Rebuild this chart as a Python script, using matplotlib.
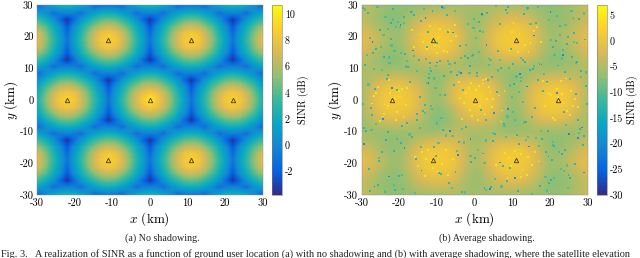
import numpy as np
import matplotlib
matplotlib.use('Agg')
import matplotlib.pyplot as plt
from matplotlib.colors import LinearSegmentedColormap

# parula-like colours, as matlab draws them
parula = LinearSegmentedColormap.from_list('parula', ['#352a87', '#0363e1', '#1485d4', '#06a7c6', '#38b99e',
                                                      '#92bf73', '#d9ba56', '#fcce2e', '#f9fb0e'])

# satellite beam centres (km)
beam_x = [0, -22, 22, -11, 11, -11, 11]
beam_y = [0, 0, 0, 19, 19, -19, -19]

# no shadowing: SINR (dB) read on a grid that goes through beam centres and cell corners,
# x = 0..31.2 in steps of 11/6 km, y = 0..31.7 in steps of 19/9 km (the picture is mirror symmetric)
sinr_rows = [
    [10.4, 8.6, 7.0, 5.2, 3.2, 1.3, -1.0, 1.3, 3.2, 5.2, 7.0, 8.4, 9.0, 8.4, 7.0, 5.2, 3.2, 1.3],
    [8.6, 7.9, 6.7, 4.8, 2.8, 1.0, -1.5, 1.0, 2.8, 4.8, 6.7, 7.9, 8.4, 7.9, 6.7, 4.8, 2.8, 1.0],
    [6.7, 6.3, 5.1, 3.8, 2.1, 0.4, -2.3, 0.4, 2.1, 3.8, 5.1, 6.3, 6.7, 6.3, 5.1, 3.8, 2.1, 0.4],
    [4.5, 4.2, 3.3, 2.2, 0.8, -1.5, -3.6, -1.5, 0.8, 2.2, 3.3, 4.2, 4.5, 4.2, 3.3, 2.2, 0.8, -1.5],
    [2.2, 2.0, 1.3, 0.4, -1.2, -0.5, -0.3, -0.5, -1.2, 0.4, 1.3, 2.0, 2.2, 2.0, 1.3, 0.4, -1.2, -0.5],
    [-0.3, -0.5, -1.2, 0.4, 1.3, 2.0, 2.2, 2.0, 1.3, 0.4, -1.2, -0.5, -0.3, -0.5, -1.2, 0.4, 1.3, 2.0],
    [-3.6, -1.5, 0.8, 2.2, 3.3, 4.2, 4.5, 4.2, 3.3, 2.2, 0.8, -1.5, -3.6, -1.5, 0.8, 2.2, 3.3, 4.2],
    [-2.3, 0.4, 2.1, 3.8, 5.1, 6.3, 6.7, 6.3, 5.1, 3.8, 2.1, 0.4, -2.3, 0.4, 2.1, 3.8, 5.1, 6.3],
    [-1.5, 1.0, 2.8, 4.8, 6.7, 7.9, 8.4, 7.9, 6.7, 4.8, 2.8, 1.0, -1.5, 1.0, 2.8, 4.8, 6.7, 7.9],
    [-1.0, 1.3, 3.2, 5.2, 7.0, 8.4, 9.0, 8.4, 7.0, 5.2, 3.2, 1.3, -1.0, 1.3, 3.2, 5.2, 7.0, 8.4],
    [-1.5, 1.0, 2.8, 4.8, 6.7, 7.9, 8.4, 7.9, 6.7, 4.8, 2.8, 1.0, -1.5, 1.0, 2.8, 4.8, 6.7, 7.9],
    [-2.3, 0.4, 2.1, 3.8, 5.1, 6.3, 6.7, 6.3, 5.1, 3.8, 2.1, 0.4, -2.3, 0.4, 2.1, 3.8, 5.1, 6.3],
    [-3.6, -1.5, 0.8, 2.2, 3.3, 4.2, 4.5, 4.2, 3.3, 2.2, 0.8, -1.5, -3.6, -1.5, 0.8, 2.2, 3.3, 4.2],
    [-0.3, -0.5, -1.2, 0.4, 1.3, 2.0, 2.2, 2.0, 1.3, 0.4, -1.2, -0.5, -0.3, -0.5, -1.2, 0.4, 1.3, 2.0],
    [2.2, 2.0, 1.3, 0.4, -1.2, -0.5, -0.3, -0.5, -1.2, 0.4, 1.3, 2.0, 2.2, 2.0, 1.3, 0.4, -1.2, -0.5],
    [4.5, 4.2, 3.3, 2.2, 0.8, -1.5, -3.6, -1.5, 0.8, 2.2, 3.3, 4.2, 4.5, 4.2, 3.3, 2.2, 0.8, -1.5],
]

# average shadowing: general level (dB) every 5 km, y = 30 down to -30, x = -30..30
shadow_rows = [
    [-3, -6, -7, -7.5, -7, -6, -5, -5.5, -6, -7, -7.5, -6, -3],
    [-4, -7.5, -8.5, -2, 0, -2.5, -8.5, -3, 0, -2, -8, -6.5, -3],
    [0, -3, -7.5, 1, 2.5, 1, -7.5, 1, 2.5, 1, -7, -3, 0],
    [-2, -6.5, -8.5, 0, 1.5, -1, -8.5, -1, 1.5, 0, -8.5, -6.5, -2],
    [-4.5, -7.5, -7, -7.5, -6, -7, -7, -7, -7, -8, -7, -7, -4.5],
    [-6.5, -0.5, 1, -2, -9.5, 0, 1.5, -0.5, -9.5, -2, 1, 0.5, -5.5],
    [-6, 1.5, 2.5, -0.5, -8.5, 1, 2.5, 1, -8.5, -0.5, 2.5, 1.5, -6],
    [-6.5, -0.5, 1, -2, -10, -6, 1, -0.5, -10, -2, 1, -0.5, -6.5],
    [-6.5, -7.5, -7, -7.5, -7.5, -3.5, -7, -7, -7.5, -7, -7, -7.5, -5.5],
    [-2, -5.5, -8.5, 0, 1.5, 0, -7.5, 0, 1.5, 0, -8.5, -5.5, -2],
    [0.5, -3, -7.5, 1, 2.5, 1, -7.5, 1, 2.5, 1, -7.5, -3, 0.5],
    [-3, -7.5, -8.5, -2, 0, -2, -8.5, -3, 0, -2, -8.5, -7.5, -3],
    [-3, -6, -7, -6.5, -6, -5.5, -5.5, -5.5, -6.5, -6.5, -7, -5.5, -3],
]

# single deep fades and bright spots picked out of panel (b)
teal_x = [-28.3, -25.1, -21.7, -18.4, -14.2, -11.6, -7.3, -3.8, 1.4, 4.7, 8.2, 12.9, 16.3, 20.8, 24.1, 27.6,
          -29.1, -26.4, -22.3, -17.1, -13.8, -9.2, -5.6, -1.3, 2.9, 6.1, 10.4, 14.7, 18.2, 22.6, 25.9, 29.2,
          -27.2, -23.6, -19.3, -15.7, -12.1, -8.4, -4.1, 0.6, 3.8, 7.7, 11.3, 15.1, 19.4, 23.7, 26.8, 28.7,
          -28.8, -24.7, -20.2, -16.6, -10.7, -6.9, -2.2, 2.1, 5.4, 9.3, 13.6, 17.4, 21.1, 24.9, 27.3, -26.1,
          -22.9, -18.8, -14.9, -11.2, -7.8, -3.1, 1.7, 6.6, 10.1, 14.2, 18.9, 22.2, 26.3, 29.5, -29.6, -25.4,
          -21.2, -17.7, -13.3, -9.9, -5.1, -0.4, 3.2, 7.1, 11.8, 16.7, 20.3, 24.4, 28.1, -27.8, -23.1, -19.9,
          -15.2, -12.7, -8.9, -4.6, 0.2, 4.3, 8.8, 12.4, 15.9, 19.8, 23.3, 27.1, -28.1, -24.2, -20.7, -16.2,
          -10.3, -6.3, -1.8, 2.6, 5.9, 9.7, 13.1, 17.8, 21.6, 25.3, 28.9, -26.9, -22.1, -18.1, -14.5, -9.4,
          -5.3, -0.9, 3.5, 7.4, 11.6, 15.5, 19.1, 23.9, 26.6, 29.8, -29.4, -25.7, -21.4, -16.9, -12.4, -8.1,
          -3.4, 1.1, 4.9, 8.5, 13.4, 17.2, 20.6, 24.7, 27.9, -27.5, -23.4, -19.6, -15.4, -11.9, -7.1, -2.7]
teal_y = [27.4, 22.1, 28.8, 14.6, 24.9, 9.3, 26.7, 17.2, 21.8, 7.4, 28.3, 12.6, 24.2, 16.8, 8.7, 25.6,
          11.2, 3.6, 19.4, 5.8, -3.4, 12.2, 4.7, 10.8, -6.2, 15.4, 5.1, 9.6, 2.7, 23.3, 13.7, 19.1,
          -4.8, -12.6, -8.3, -18.7, 6.9, -9.4, -13.2, 8.4, 13.1, -7.6, -11.1, -5.3, -9.8, -3.7, 1.8, -14.2,
          -9.7, -16.3, -24.1, -11.7, -14.8, -26.3, -8.6, -16.9, -10.7, -21.4, -6.8, -27.2, -14.6, -23.8, -6.3, 16.2,
          7.8, 26.1, 12.7, 28.1, 1.6, 3.2, -3.1, 23.9, 11.4, 29.2, -16.4, 10.9, 21.2, 4.4, 29.1, -19.2,
          -28.4, 10.4, -1.7, 18.1, -22.8, 14.3, 27.6, 10.1, -13.9, 6.2, -25.3, 17.7, 9.1, -28.6, -10.1, 22.9,
          -6.4, 16.7, -23.4, 7.9, -18.3, -27.4, 29.3, 7.1, -2.4, -26.1, -17.2, 11.9, -21.7, 13.6, 3.1, 26.9,
          -17.6, 8.8, 13.4, -27.9, 2.4, 16.1, 27.2, -12.3, 18.6, -24.7, -11.4, 14.9, 24.4, -7.2, 0.8, -23.2,
          11.7, -19.6, 6.4, -20.8, -28.7, 9.7, 5.6, -15.7, -20.3, -1.2, -8.9, -26.7, -16.1, 27.9, 21.6, 7.6,
          -29.2, 24.6, -12.9, -25.7, 12.1, 11.3, -18.9, 19.8, -9.2, -2.6, 6.7, -13.6, -4.4, 11.6, 21.4, 13.8]
blue_x = [-27.1, -19.7, -12.3, -5.8, 1.9, 8.9, 15.8, 23.4, 28.4, -24.4, -16.4, -8.7, -1.1, 5.2, 12.1, 19.6,
          26.2, -29.3, -21.9, -14.1, -6.6, 3.1, 10.7, 17.7, 25.1, -26.6, -18.6, -10.1, -3.6, 6.7, 14.4, 21.9,
          29.1, -22.7, -13.1, -4.4, 4.1, 13.8, 20.1, 27.4]
blue_y = [18.4, 23.6, 5.3, 21.3, 27.1, -2.8, 20.4, 14.2, -8.7, -6.1, 15.6, 29.4, -12.4, -4.2, 8.1, -17.8,
          25.7, -13.9, 3.9, -22.3, -9.9, 17.3, -24.6, 11.2, -10.8, -27.3, -15.1, 11.8, 8.6, -19.7, -14.7, 2.1,
          -22.9, -24.2, 25.8, -17.4, -28.1, 4.3, 27.8, -12.1]
green_x = [-28.6, -24.9, -22.8, -21.3, -20.4, -23.7, -22.1, -20.9, -24.2, -21.8, -19.6, -23.1, -0.8, 1.2, -2.3, 0.4,
           2.1, -1.7, -0.2, 1.9, -2.8, 0.9, -1.1, 2.6, 21.2, 23.4, 20.3, 22.7, 24.1, 19.8, 21.9, 23.2,
           20.7, 22.4, 24.6, 21.1, -12.6, -10.4, -9.3, -11.7, -13.1, -8.8, -10.9, -12.2, -9.9, -11.3, 9.4, 11.7,
           12.8, 10.2, 8.7, 13.2, 11.1, 9.9, 12.3, 10.7, -26.8, -18.2, -15.4, -6.7, -4.2, 3.7, 6.2, 15.7,
           18.4, 26.9, -27.4, -17.3, -14.6, -7.6, -3.3, 4.8, 7.9, 14.1, 17.6, 27.7, -29.2, -25.8, -16.7, -13.4,
           -8.3, -5.2, 5.6, 8.6, 13.9, 16.8, 25.7, 29.1, -23.9, -19.1, -15.9, -6.1, -2.6, 2.9, 7.1, 15.2,
           19.3, 24.8, -28.2, -20.6, -12.9, -4.8, 3.1, 12.2, 20.9, 28.3, -26.1, -17.9, -9.6, -1.4, 6.8, 16.2,
           24.3, 29.6, -22.6, -14.3, -7.2, 0.6, 8.3, 17.1, 25.2, -29.7, -24.6, -16.1, -5.9, 4.2, 13.6, 22.8,
           -27.9, -18.8, -11.8, -3.7, 5.3, 14.8, 23.6, 27.2, -25.3, -19.4, -10.2, -0.3, 9.2, 18.8, 26.4, -21.5]
green_y = [14.1, 16.7, 13.4, 15.6, 24.6, 26.3, 17.2, 23.1, 20.4, 25.4, 14.8, 22.3, 13.8, 15.1, 17.4, 19.7,
           21.6, 23.9, 25.7, 26.8, -13.4, -15.8, -17.6, -19.9, 14.2, 15.7, 18.9, 20.6, 23.7, 25.2, 26.6, 13.1,
           -14.3, -16.4, -20.7, -24.6, 5.4, 3.8, 1.6, -1.9, -4.2, -5.6, 6.8, 8.1, -7.4, -2.8, 4.6, 2.4,
           -0.7, -3.9, -5.2, -7.1, 7.4, 0.9, 6.1, -6.4, 9.8, 10.6, 9.1, 11.4, 8.9, 11.1, 9.3, 10.8,
           8.2, 11.7, -9.4, -10.9, -8.8, -11.2, -9.1, -10.3, -8.3, -11.6, -9.9, -10.4, 28.6, 29.4, 27.9, 28.7,
           29.1, 28.2, 29.6, 27.6, 28.9, 29.3, 28.1, 27.3, -28.9, -28.1, -29.4, -27.8, -29.2, -28.4, -27.3, -29.7,
           -28.6, -27.9, 4.9, -12.3, 12.9, -16.2, -12.8, 13.3, -13.2, 7.2, -7.7, 12.4, -13.7, 8.4, 12.7, -12.1,
           -7.9, 8.7, 11.6, -14.9, 12.2, 7.7, -11.8, -14.4, 6.6, -1.3, 9.4, 13.9, -11.3, 12.6, -12.7, -21.8,
           19.7, 24.3, 10.2, 13.2, -24.9, 24.1, -22.4, 18.1, -18.4, -23.6, 10.7, 22.7, 10.1, -24.2, 18.3, -26.9]
gold_x = [-26.7, -23.3, -19.2, -14.4, -12.6, -9.1, -6.2, -2.4, 1.3, 3.9, 7.2, 9.8, 13.3, 16.6, 20.4, 23.8,
          -24.1, -21.1, -17.3, -13.7, -8.2, -4.9, 0.3, 2.7, 6.4, 11.9, 14.8, 18.7, 21.8, 25.6, -25.6, -20.6,
          -15.8, -11.1, -7.6, -2.9, 1.8, 4.6, 8.1, 12.7, 17.1, 22.4, 24.6, -22.4, -18.3, -12.9, -9.7, -4.2,
          -0.7, 3.3, 9.1, 10.6, 15.3, 19.3, 23.1, 26.7, -23.8, -20.1, -10.6, -6.8, -1.6, 2.3, 5.7, 11.2,
          -27.3, -22.8, -18.9, -15.1, -13.2, -11.8, -9.4, -7.1, -5.3, -3.4, -0.9, 0.8, 3.1, 5.2, 7.9, 10.3,
          12.2, 14.3, 16.1, 18.2, 20.9, 22.9, 25.2, 27.4, -25.2, -21.6, -16.7, -14.1, -10.1, -8.6, -5.7, -1.2,
          1.1, 4.2, 6.9, 9.4, 13.8, 15.8, 19.8, 21.4, 24.2, -26.2, -24.7, -19.8, -16.2, -12.3, -7.3, -3.8,
          0.1, 2.1, 4.9, 8.7, 11.5, 14.1, 17.6, 22.1, 26.1, -23.1, -20.8, -17.9, -11.4, -9.8, 12.4, 9.6]
gold_y = [1.2, -2.7, 3.4, 20.7, 16.1, 22.3, 18.6, 2.2, -1.9, 4.1, -3.3, 21.4, 17.3, 23.1, 1.6, -1.1,
          -4.3, 0.7, 4.9, 18.2, 15.4, 20.1, 3.1, -4.6, 1.4, 20.9, 17.9, -1.8, 3.6, 2.8, 4.2, -3.8,
          -17.9, -21.6, -15.8, -0.9, 1.2, -2.1, -16.7, -22.1, -19.4, -0.4, -3.4, 2.3, -1.6, -18.6, -22.7, 5.7,
          -5.1, 0.4, -18.2, -16.1, -20.6, 5.2, 1.9, 0.3, -1.4, 2.9, 17.1, 21.9, 3.7, 5.2, -20.4, 18.8,
          -1.1, 6.2, -5.4, -20.9, -24.1, 23.4, 16.9, -23.7, 23.8, -5.9, 5.4, -6.2, 6.7, -4.1, 2.8, 24.4,
          -24.2, 15.2, -16.3, 6.1, -5.7, 5.9, -4.8, -2.3, -6.7, -0.3, 22.2, -16.4, 14.9, -20.1, -18.7, -3.2,
          4.4, 2.6, -6.8, 15.7, -23.6, 21.7, 1.8, -6.3, 6.8, 2.1, -5.2, 1.1, 16.8, -15.9, 15.1, 0.6,
          -1.4, 6.4, 0.2, -24.6, 15.1, -18.1, 18.3, 0.9, -1.8, -1.9, -6.4, 3.9, -19.3, 19.6, -17.1, -20.8]

x_ticks = [-30, -20, -10, 0, 10, 20, 30]
y_ticks = [-30, -20, -10, 0, 10, 20, 30]
cbar_a_ticks = [-2, 0, 2, 4, 6, 8, 10]
cbar_b_ticks = [-30, -25, -20, -15, -10, -5, 0, 5]

plt.rcParams['font.family'] = 'cmr10'
plt.rcParams['mathtext.fontset'] = 'cm'
plt.rcParams['axes.unicode_minus'] = False
plt.rcParams['axes.formatter.use_mathtext'] = True

W, H = 640, 258
fig = plt.figure(figsize=(W / 100, H / 100), dpi=100)


def box(x0, x1, y0=5, y1=195):
    return [x0 / W, 1 - y1 / H, (x1 - x0) / W, (y1 - y0) / H]


def dress(ax, cax, im, cax_ticks):
    ax.plot(beam_x, beam_y, '^', ms=3.2, mfc='none', mec='#3a3a10', mew=0.6, ls='none')
    ax.set_xlim(-30, 30)
    ax.set_ylim(-30, 30)
    ax.set_xticks(x_ticks)
    ax.set_yticks(y_ticks)
    ax.set_xticklabels([str(t) for t in x_ticks], fontsize=7.6)
    ax.set_yticklabels([str(t) for t in y_ticks], fontsize=7.6)
    ax.tick_params(length=0, pad=2.5)
    ax.set_xlabel('$x$ (km)', fontsize=9.5, labelpad=1.5)
    ax.set_ylabel('$y$ (km)', fontsize=9.5, labelpad=0)
    for s in ax.spines.values():
        s.set_linewidth(0.3)
        s.set_color('#888888')
    cb = fig.colorbar(im, cax=cax)
    cb.set_ticks(cax_ticks)
    cb.set_ticklabels([str(t) for t in cax_ticks], fontsize=7.2)
    cb.ax.tick_params(length=0, pad=2)
    cb.set_label('SINR (dB)', fontsize=7.3, labelpad=2.5)
    cb.outline.set_linewidth(0.4)
    cb.outline.set_edgecolor('#777777')


# (a) no shadowing
quad = np.array(sinr_rows)
top = np.hstack([quad[:, :0:-1], quad])
sinr = np.vstack([top[:0:-1], top])
half_x = 17.5 * 11 / 6
half_y = 15.5 * 19 / 9
ax1 = fig.add_axes(box(37, 262.7))
cax1 = fig.add_axes(box(272, 282))
im1 = ax1.imshow(sinr, extent=[-half_x, half_x, -half_y, half_y], origin='lower', cmap=parula, vmin=-3.8, vmax=10.7,
                 interpolation='bilinear', aspect='auto')
dress(ax1, cax1, im1, cbar_a_ticks)

# (b) average shadowing
ax2 = fig.add_axes(box(361.7, 587.7))
cax2 = fig.add_axes(box(597, 607))
level = np.array(shadow_rows)[::-1]
im2 = ax2.imshow(level, extent=[-32.5, 32.5, -32.5, 32.5], origin='lower', cmap=parula, vmin=-30, vmax=7,
                 interpolation='bicubic', aspect='auto')
ax2.scatter(gold_x, gold_y, c=[5.0] * len(gold_x), s=1.8, marker='s', lw=0, cmap=parula, vmin=-30, vmax=7, alpha=0.8)
ax2.scatter(green_x, green_y, c=[-11.0] * len(green_x), s=2.4, marker='s', lw=0, cmap=parula, vmin=-30, vmax=7, alpha=0.8)
ax2.scatter(teal_x, teal_y, c=[-14.0] * len(teal_x), s=2.0, marker='s', lw=0, cmap=parula, vmin=-30, vmax=7, alpha=0.8)
ax2.scatter(blue_x, blue_y, c=[-22.0] * len(blue_x), s=1.5, marker='s', lw=0, cmap=parula, vmin=-30, vmax=7, alpha=0.8)
dress(ax2, cax2, im2, cbar_b_ticks)

# captions
fig.text(162 / W, 1 - 238 / H, '(a) No shadowing.', family='Liberation Serif', fontsize=7.2, ha='center', va='center', color='#222222')
fig.text(487 / W, 1 - 238 / H, '(b) Average shadowing.', family='Liberation Serif', fontsize=7.2, ha='center', va='center', color='#222222')
fig.text(1 / W, 1 - 254 / H,
         'Fig. 3.   A realization of SINR as a function of ground user location (a) with no shadowing and (b) with average shadowing, where the satellite elevation',
         family='Liberation Serif', fontsize=7.35, ha='left', va='center', color='#222222')

fig.savefig('out.png', dpi=100)
